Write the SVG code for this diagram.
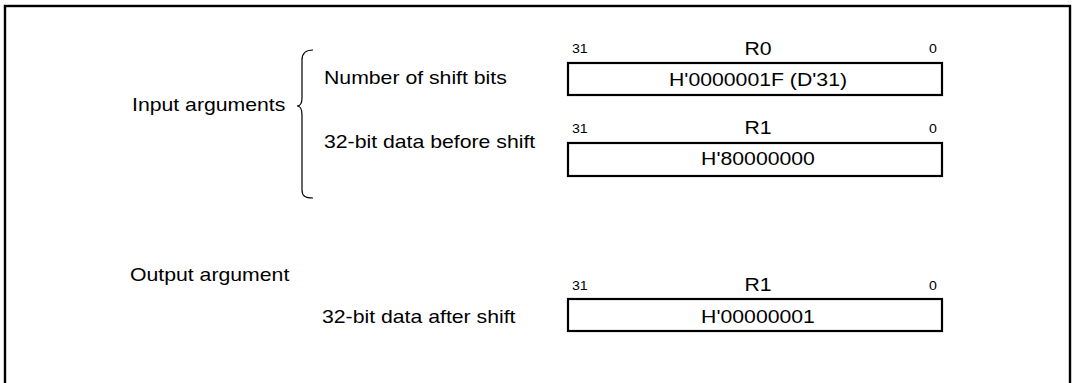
<svg xmlns="http://www.w3.org/2000/svg" width="1073" height="383" viewBox="0 0 1073 383">
<style>
.t{font-family:"Liberation Sans",Arial,sans-serif;font-size:18px;fill:#000}
.s{font-family:"Liberation Sans",Arial,sans-serif;font-size:12px;fill:#000}
.m{text-anchor:middle}
.box{fill:#fff;stroke:#000;stroke-width:2.2}
.frame{fill:none;stroke:#000;stroke-width:2.4}
.brace{fill:none;stroke:#000;stroke-width:1.2}
</style>
<rect class="frame" x="5" y="6" width="1065" height="400"/>
<g id="labels">
<text class="t" transform="translate(132,111) scale(1.18,1)">Input arguments</text>
<text class="t" transform="translate(324,84) scale(1.18,1)">Number of shift bits</text>
<text class="t" transform="translate(324,148) scale(1.18,1)">32-bit data before shift</text>
<text class="t" transform="translate(130,281) scale(1.18,1)">Output argument</text>
<text class="t" transform="translate(322,323) scale(1.18,1)">32-bit data after shift</text>
</g>
<g id="connectors">
<path class="brace" d="M313,50 C305,50 302,54 302,60 L302,98 C302,104 300,106 297,106 C300,106 302,109 302,115 L302,190 C302,196 305,198 313,198"/>
</g>
<g id="reg-r0">
<text class="s" transform="translate(572,53) scale(1.18,1)">31</text>
<text class="t m" transform="translate(758,55) scale(1.18,1)">R0</text>
<text class="s m" transform="translate(933,53) scale(1.18,1)">0</text>
<rect class="box" x="568" y="63" width="374" height="32"/>
<text class="t m" transform="translate(758,86) scale(1.18,1)">H'0000001F (D'31)</text>
</g>
<g id="reg-r1-in">
<text class="s" transform="translate(572,133) scale(1.18,1)">31</text>
<text class="t m" transform="translate(758,134) scale(1.18,1)">R1</text>
<text class="s m" transform="translate(933,133) scale(1.18,1)">0</text>
<rect class="box" x="568" y="143" width="374" height="33"/>
<text class="t m" transform="translate(758,165) scale(1.18,1)">H'80000000</text>
</g>
<g id="reg-r1-out">
<text class="s" transform="translate(572,290) scale(1.18,1)">31</text>
<text class="t m" transform="translate(758,291) scale(1.18,1)">R1</text>
<text class="s m" transform="translate(933,290) scale(1.18,1)">0</text>
<rect class="box" x="568" y="299" width="374" height="32"/>
<text class="t m" transform="translate(758,323) scale(1.18,1)">H'00000001</text>
</g>
</svg>
